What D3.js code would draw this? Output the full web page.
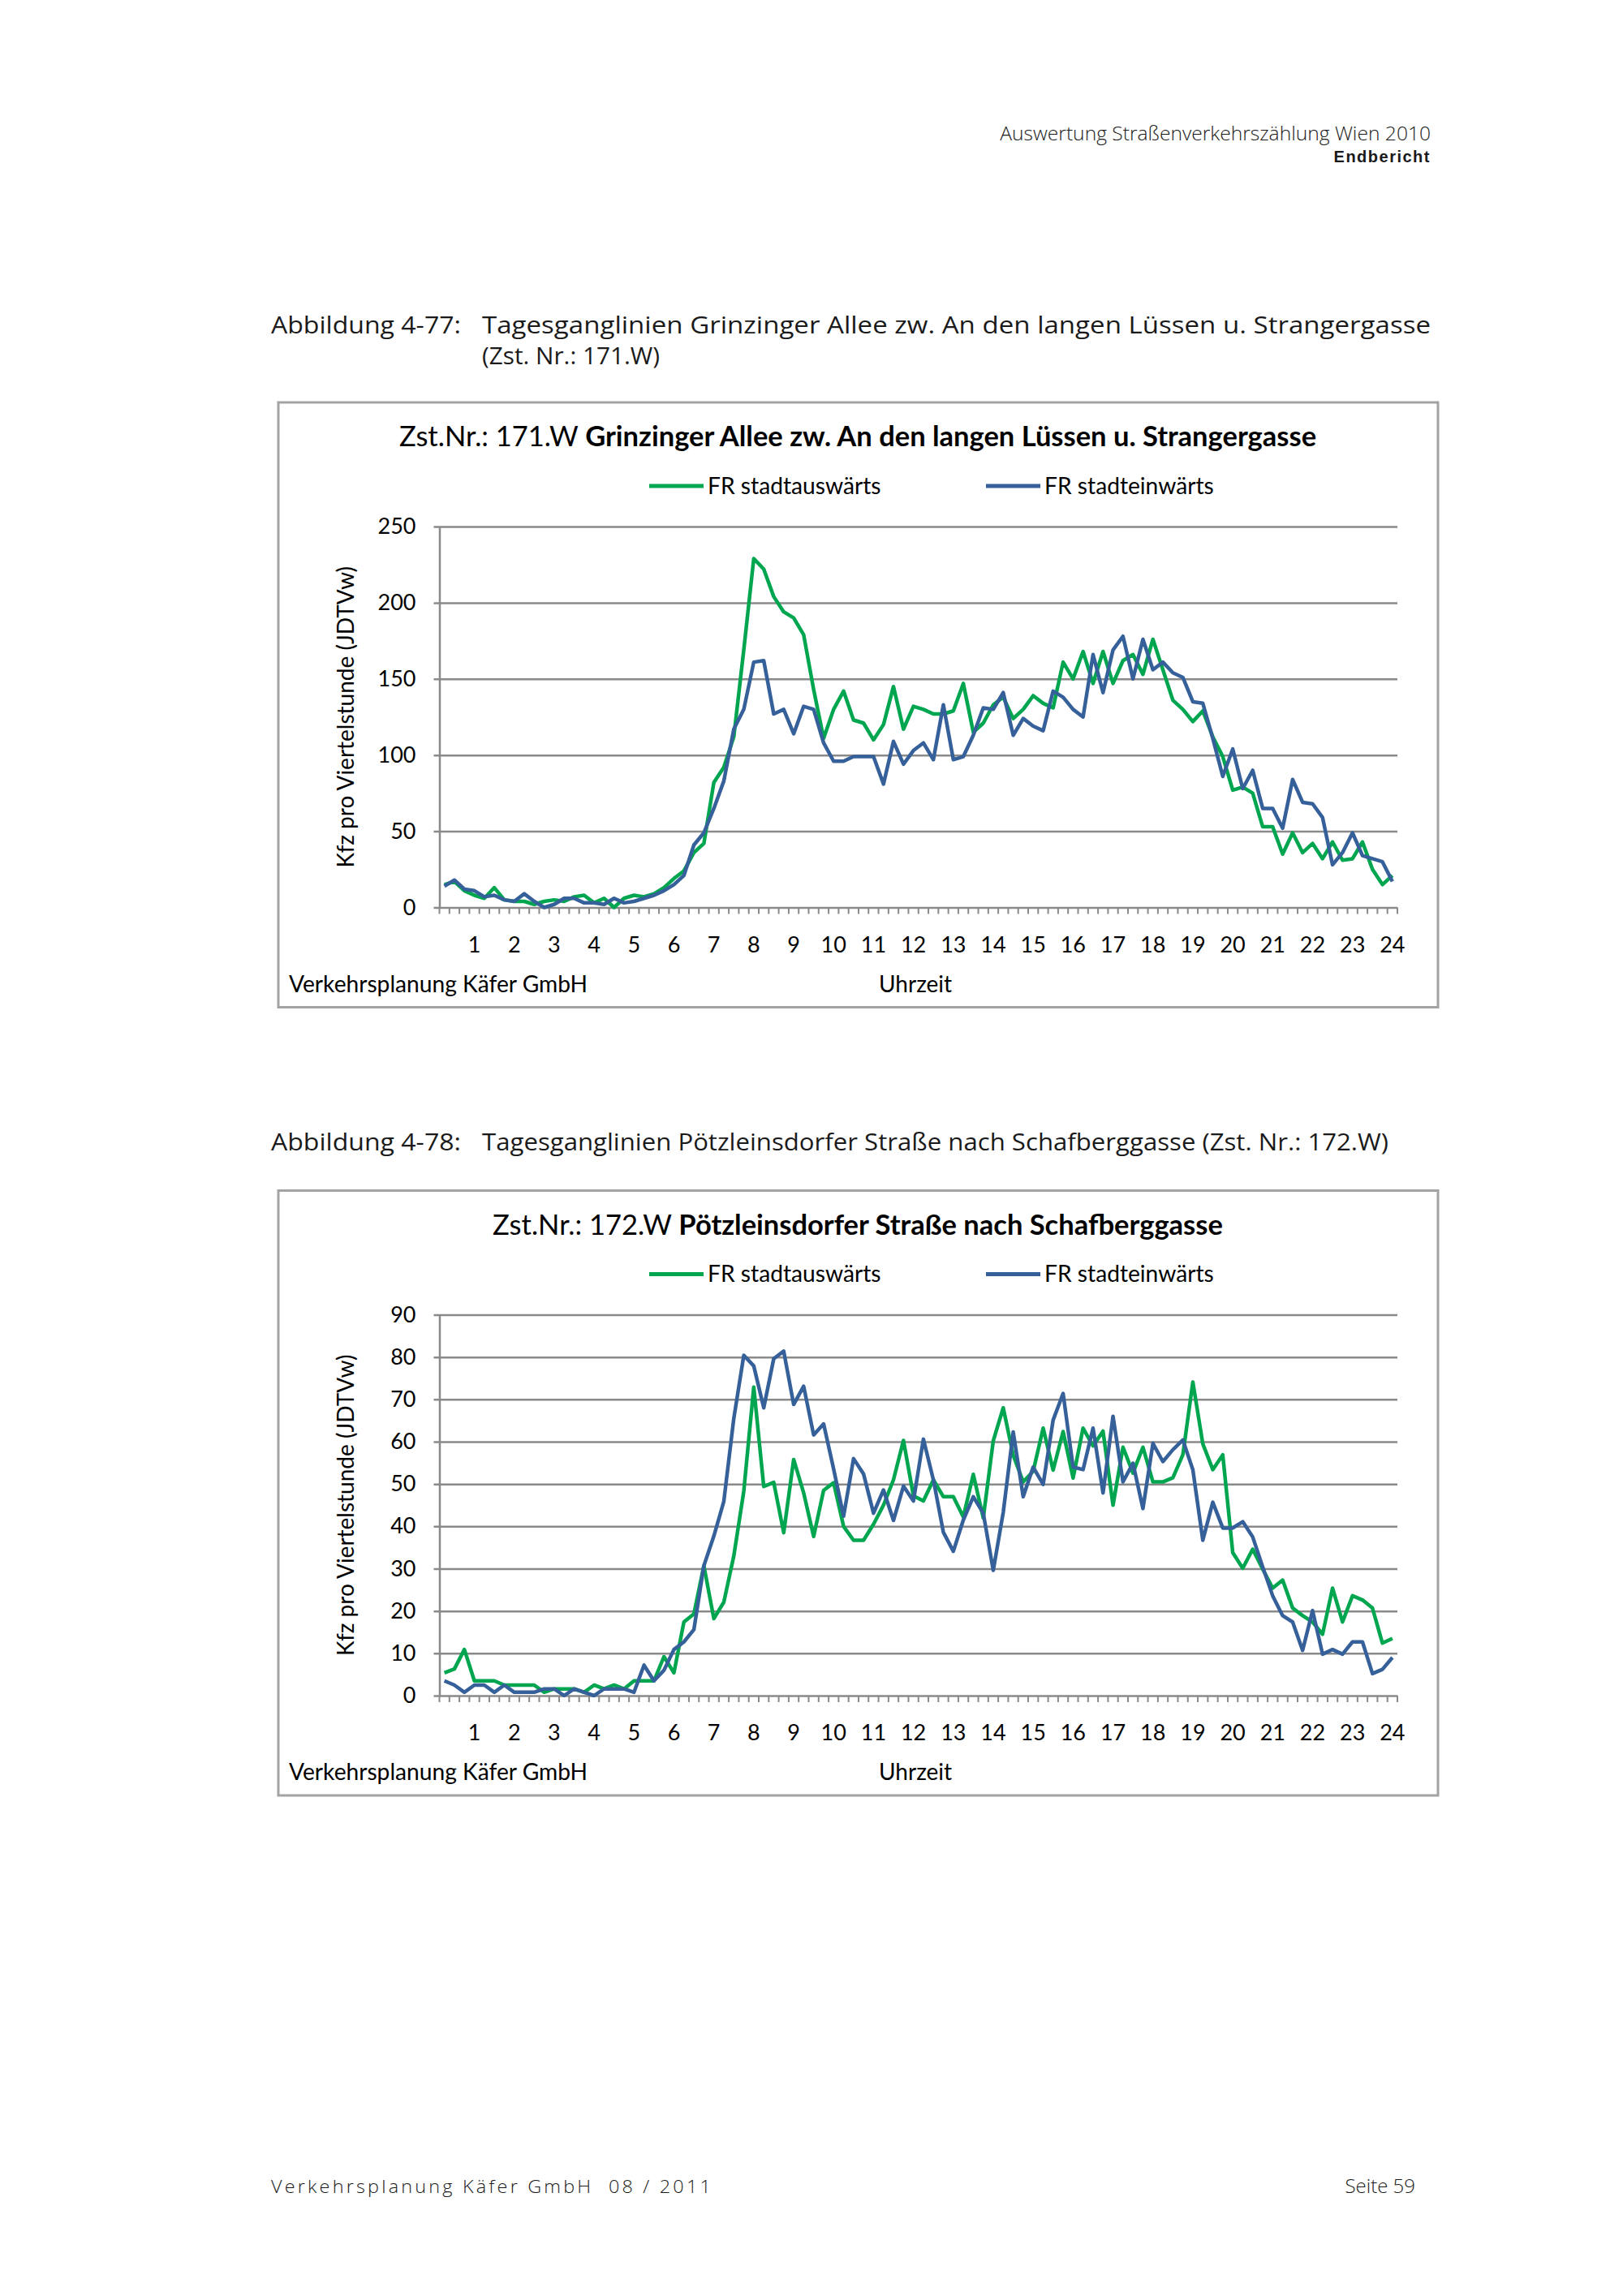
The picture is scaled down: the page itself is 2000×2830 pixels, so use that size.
<!DOCTYPE html>
<html>
<head>
<meta charset="utf-8">
<script src="https://cdnjs.cloudflare.com/ajax/libs/d3/7.8.5/d3.min.js"></script>
<style>
  body { margin: 0; background: #fff; }
</style>
</head>
<body>
<div id="page"></div>
<script>
(function() {
  'use strict';

  // 96 quarter hours, labelled every 4th with the hour
  var quarters = d3.range(1, 97);

  // 171.W Grinzinger Allee
  var out171 = [15, 17, 11, 8, 6, 13, 5, 4, 4, 2, 4, 5, 4, 7, 8, 3, 6, 0, 6, 8, 7, 9, 13, 19,
    24, 36, 42, 82, 92, 112, 169, 229, 222, 204, 194, 190, 179, 143, 111, 130, 142, 123, 121, 110,
    120, 145, 117, 132, 130, 127, 127, 129, 147, 115, 121, 133, 138, 124, 130, 139, 134, 131, 161, 150,
    168, 147, 168, 147, 162, 166, 153, 176, 156, 136, 130, 122, 129, 112, 99, 77, 79, 75, 53, 53,
    35, 49, 36, 42, 32, 43, 31, 32, 43, 25, 15, 21];
  var in171 = [14, 18, 12, 11, 7, 8, 5, 4, 9, 4, 0, 2, 6, 6, 3, 3, 2, 6, 3, 4, 6, 8, 11, 15,
    21, 41, 49, 65, 83, 117, 130, 161, 162, 127, 130, 114, 132, 130, 108, 96, 96, 99, 99, 99,
    81, 109, 94, 103, 108, 97, 133, 97, 99, 113, 131, 130, 141, 113, 124, 119, 116, 142, 138, 130,
    125, 166, 141, 169, 178, 150, 176, 156, 161, 154, 151, 135, 134, 111, 86, 104, 78, 90, 65, 65,
    52, 84, 69, 68, 59, 28, 36, 49, 34, 32, 30, 17];

  // 172.W Pötzleinsdorfer Straße
  var out172 = [5.4, 6.3, 10.9, 3.5, 3.5, 3.5, 2.5, 2.5, 2.5, 2.5, 0.8, 1.6, 1.6, 1.6, 0.8, 2.5,
    1.6, 2.5, 1.6, 3.5, 3.5, 3.5, 9.2, 5.4, 17.4, 19.3, 30.7, 18.2, 22.1, 33, 48.3, 72.9,
    49.4, 50.4, 38.5, 55.8, 47.9, 37.6, 48.5, 50.3, 40, 36.7, 36.7, 40.5, 45, 51, 60.3, 47.2,
    46, 51, 47, 47, 42.2, 52.3, 42, 60.2, 68, 56.8, 50.5, 53, 63.2, 53.3, 62.4, 51.4,
    63.2, 59, 62.5, 45, 58.7, 52.6, 58.7, 50.5, 50.5, 51.5, 56.9, 74.1, 59.5, 53.4, 56.9, 33.8,
    30.1, 34.6, 29.9, 25.4, 27.3, 20.7, 18.9, 17.4, 14.5, 25.4, 17.4, 23.6, 22.6, 20.7, 12.4, 13.5];
  var in172 = [3.5, 2.5, 0.8, 2.5, 2.5, 0.8, 2.5, 0.8, 0.8, 0.8, 1.6, 1.6, 0, 1.6, 0.8, 0,
    1.6, 1.6, 1.6, 0.8, 7.2, 3.5, 6, 10.9, 12.7, 15.6, 30.7, 37.7, 45.9, 65.5, 80.4, 77.9,
    68, 79.6, 81.4, 68.8, 73.1, 61.6, 64.2, 53.6, 42.4, 56, 52.4, 43.1, 48.6, 41.4, 49.5, 46,
    60.6, 51, 38.6, 34.1, 41.5, 47, 43.1, 29.6, 43.3, 62.3, 47, 54, 49.9, 65.1, 71.4, 54,
    53.4, 63.2, 47.9, 66, 50.5, 54.9, 44.2, 59.6, 55.3, 58.1, 60.4, 53.4, 36.7, 45.7, 39.6, 39.6,
    41.1, 37.5, 30.4, 23.6, 18.9, 17.4, 10.7, 20.1, 9.8, 10.9, 9.8, 12.7, 12.7, 5.2, 6.2, 9];

  var yTicks171 = [0, 50, 100, 150, 200, 250];
  var yTicks172 = [0, 10, 20, 30, 40, 50, 60, 70, 80, 90];

  var seriesNames = ['FR stadtauswärts', 'FR stadteinwärts'];
  var seriesColors = ['#00a64f', '#36609a'];

  var chartFont = 'Lato, "Noto Sans", sans-serif';
  var docFont = '"Open Sans", "DejaVu Sans", sans-serif';

  var svg = d3.select('#page')
    .append('svg')
    .attr('width', 2000)
    .attr('height', 2830);

  svg.append('rect').attr('width', 2000).attr('height', 2830).attr('fill', '#fff');

  function addText(x, y, str, size, opts) {
    opts = opts || {};
    var t = svg.append('text')
      .attr('x', x)
      .attr('y', y)
      .attr('dy', '0.35em')
      .attr('font-family', opts.family || docFont)
      .attr('font-size', size)
      .attr('font-weight', opts.weight || 'normal')
      .attr('fill', opts.fill || '#1a1a1a')
      .attr('text-anchor', opts.anchor || 'start')
      .style('white-space', 'pre')
      .text(str);
    if (opts.spacing) t.attr('letter-spacing', opts.spacing);
    if (opts.length) t.attr('textLength', opts.length).attr('lengthAdjust', 'spacingAndGlyphs');
    return t;
  }

  // page header
  addText(1763, 164, 'Auswertung Straßenverkehrszählung Wien 2010', 24.6, { anchor: 'end', weight: 300 });
  addText(1763, 193, 'Endbericht', 20, { anchor: 'end', weight: 'bold', family: '"Liberation Sans", sans-serif', spacing: 1.5 });

  // figure captions
  addText(334, 401, 'Abbildung 4-77:', 29, { length: 234 });
  addText(594, 401, 'Tagesganglinien Grinzinger Allee zw. An den langen Lüssen u. Strangergasse', 29, { length: 1169 });
  addText(594, 439, '(Zst. Nr.: 171.W)', 29, { length: 219 });
  addText(334, 1408, 'Abbildung 4-78:', 29, { length: 234 });
  addText(594, 1408, 'Tagesganglinien Pötzleinsdorfer Straße nach Schafberggasse (Zst. Nr.: 172.W)', 29, { length: 1117 });

  // page footer
  addText(334, 2695, 'Verkehrsplanung Käfer GmbH\u00a0\u00a008 / 2011', 22, { weight: 300, spacing: 3, length: 545 });
  addText(1744, 2695, 'Seite 59', 24, { anchor: 'end', weight: 300 });

  // draw one chart box with two day curves
  function drawChart(top, titleNo, titleName, yTicks, series) {
    var left = 343, right = 1772, height = 745.5;
    var plotL = 541.5, plotR = 1722, plotT = top + 153, plotB = top + 622.5;

    var g = svg.append('g');

    g.append('rect')
      .attr('x', left)
      .attr('y', top)
      .attr('width', right - left)
      .attr('height', height)
      .attr('fill', '#fff')
      .attr('stroke', '#a3a3a3')
      .attr('stroke-width', 3);

    var title = g.append('text')
      .attr('x', 1057)
      .attr('y', top + 42)
      .attr('dy', '0.35em')
      .attr('text-anchor', 'middle')
      .attr('font-family', chartFont)
      .attr('font-size', 34.5)
      .attr('fill', '#000');
    title.append('tspan').text(titleNo + ' ');
    title.append('tspan').attr('font-weight', 'bold').text(titleName);

    // legend
    var legX = [800, 1215];
    seriesNames.forEach(function(name, i) {
      g.append('line')
        .attr('x1', legX[i]).attr('x2', legX[i] + 67)
        .attr('y1', top + 103).attr('y2', top + 103)
        .attr('stroke', seriesColors[i])
        .attr('stroke-width', 5);
      g.append('text')
        .attr('x', legX[i] + 72)
        .attr('y', top + 103)
        .attr('dy', '0.35em')
        .attr('font-family', chartFont)
        .attr('font-size', 28.2)
        .attr('fill', '#000')
        .text(name);
    });

    var x = d3.scaleBand()
      .domain(quarters)
      .range([plotL, plotR])
      .padding(0);

    var y = d3.scaleLinear()
      .domain([0, yTicks[yTicks.length - 1]])
      .range([plotB, plotT]);

    // horizontal gridlines + y labels
    var yAxis = g.append('g')
      .attr('transform', 'translate(' + plotL + ',0)')
      .call(d3.axisLeft(y)
        .tickValues(yTicks)
        .tickSize(-(plotR - plotL))
        .tickSizeOuter(0)
        .tickPadding(29));
    yAxis.select('.domain').attr('stroke', '#8a8a8a').attr('stroke-width', 2.5);
    yAxis.selectAll('.tick line').attr('x1', -7).attr('stroke', '#8a8a8a').attr('stroke-width', 2.5);
    yAxis.selectAll('.tick text')
      .attr('font-family', chartFont)
      .attr('font-size', 27)
      .attr('fill', '#000');

    // small ticks on every quarter hour boundary
    var bounds = quarters.map(function(q) { return x(q); }).concat([plotR]);
    g.selectAll('.qtick')
      .data(bounds)
      .enter().append('line')
      .attr('x1', function(d) { return d; })
      .attr('x2', function(d) { return d; })
      .attr('y1', plotB)
      .attr('y2', plotB + 8)
      .attr('stroke', '#8a8a8a')
      .attr('stroke-width', 2);

    // hour labels
    var xAxis = g.append('g')
      .attr('transform', 'translate(0,' + plotB + ')')
      .call(d3.axisBottom(x)
        .tickValues(quarters.filter(function(q) { return q % 4 === 0; }))
        .tickFormat(function(q) { return q / 4; })
        .tickSize(0)
        .tickPadding(36));
    xAxis.select('.domain').remove();
    xAxis.selectAll('.tick text')
      .attr('font-family', chartFont)
      .attr('font-size', 27)
      .attr('fill', '#000');

    // axis titles
    g.append('text')
      .attr('transform', 'translate(426,' + ((plotT + plotB) / 2) + ') rotate(-90)')
      .attr('dy', '0.35em')
      .attr('text-anchor', 'middle')
      .attr('font-family', chartFont)
      .attr('font-size', 28)
      .attr('fill', '#000')
      .text('Kfz pro Viertelstunde (JDTVw)');

    g.append('text')
      .attr('x', 356)
      .attr('y', top + 717)
      .attr('dy', '0.35em')
      .attr('font-family', chartFont)
      .attr('font-size', 28.2)
      .attr('fill', '#000')
      .text('Verkehrsplanung Käfer GmbH');

    g.append('text')
      .attr('x', 1083)
      .attr('y', top + 717)
      .attr('dy', '0.35em')
      .attr('font-family', chartFont)
      .attr('font-size', 28)
      .attr('fill', '#000')
      .text('Uhrzeit');

    var line = d3.line()
      .x(function(d, i) { return x(quarters[i]) + x.bandwidth() / 2; })
      .y(function(d) { return y(d); });

    series.forEach(function(values, i) {
      g.append('path')
        .datum(values)
        .attr('d', line)
        .attr('fill', 'none')
        .attr('stroke', seriesColors[i])
        .attr('stroke-width', 4.5)
        .attr('stroke-linejoin', 'round');
    });
  }

  drawChart(496, 'Zst.Nr.: 171.W', 'Grinzinger Allee zw. An den langen Lüssen u. Strangergasse', yTicks171, [out171, in171]);
  drawChart(1467.5, 'Zst.Nr.: 172.W', 'Pötzleinsdorfer Straße nach Schafberggasse', yTicks172, [out172, in172]);

}());
</script>
</body>
</html>
